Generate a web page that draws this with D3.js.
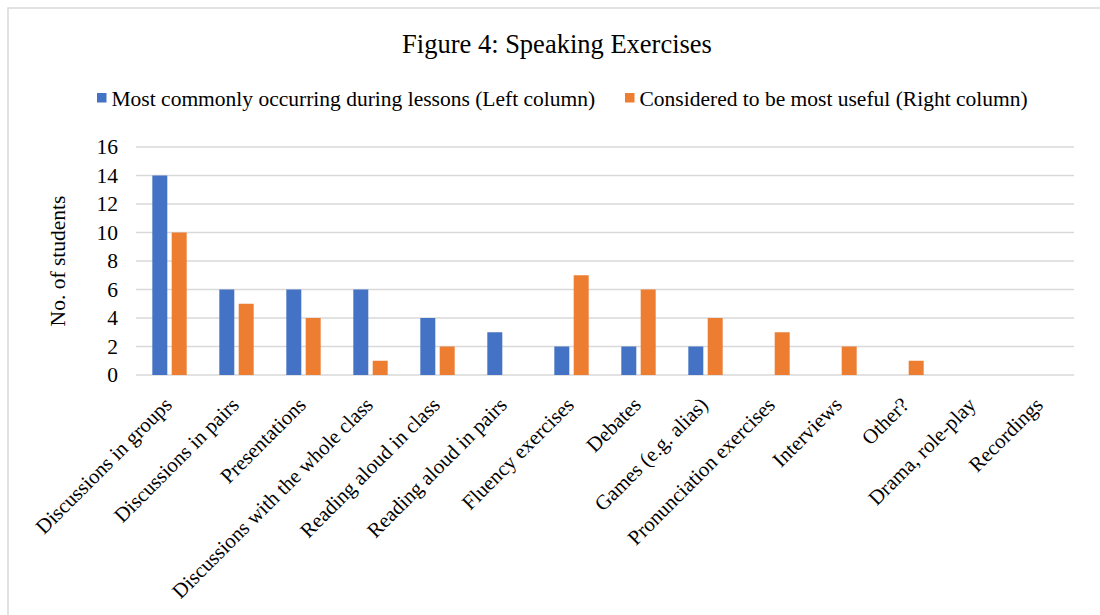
<!DOCTYPE html>
<html>
<head>
<meta charset="utf-8">
<script src="https://cdn.jsdelivr.net/npm/d3@7"></script>
<style>
  html, body { margin: 0; padding: 0; background: #fff; }
  svg { display: block; font-family: "Liberation Serif", "Times New Roman", serif; }
</style>
</head>
<body>
<svg id="chart" width="1100" height="615"></svg>
<script>
const categories = [
  "Discussions in groups", "Discussions in pairs", "Presentations",
  "Discussions with the whole class", "Reading aloud in class", "Reading aloud in pairs",
  "Fluency exercises", "Debates", "Games (e.g. alias)", "Pronunciation exercises",
  "Interviews", "Other?", "Drama, role-play", "Recordings"
];
const seriesNames = [
  "Most commonly occurring during lessons (Left column)",
  "Considered to be most useful (Right column)"
];
const mostCommon = [14, 6, 6, 6, 4, 3, 2, 2, 2, 0, 0, 0, 0, 0];
const mostUseful = [10, 5, 4, 1, 2, 0, 7, 6, 4, 3, 2, 1, 0, 0];
const yTicks = [0, 2, 4, 6, 8, 10, 12, 14, 16];
const colors = ["#4472C4", "#ED7D31"];

(function () {
const svg = d3.select("#chart");
const FS = 21.5;

// chart frame
svg.append("rect")
  .attr("x", 8).attr("y", 8).attr("width", 1200).attr("height", 700)
  .attr("fill", "none").attr("stroke", "#d9d9d9").attr("stroke-width", 1.5);

const pLeft = 136, pRight = 1074, pTop = 147, pBottom = 375;

const x0 = d3.scaleBand().domain(categories).range([pLeft, pRight])
  .paddingInner(0.487).paddingOuter(0.2435);
const x1 = d3.scaleBand().domain([0, 1]).range([0, x0.bandwidth()]).paddingInner(0.227);
const y = d3.scaleLinear().domain([0, 16]).range([pBottom, pTop]);

// gridlines
svg.append("g").selectAll("line").data(yTicks).join("line")
  .attr("x1", pLeft).attr("x2", pRight)
  .attr("y1", d => y(d)).attr("y2", d => y(d))
  .attr("stroke", "#d9d9d9").attr("stroke-width", 1.5);

// y axis labels
const yAxis = d3.axisLeft(y).tickValues(yTicks).tickSize(0).tickPadding(0);
const gy = svg.append("g").attr("transform", `translate(118,0)`).call(yAxis);
gy.select(".domain").remove();
gy.selectAll("text").attr("font-size", FS).attr("font-family", "Liberation Serif, serif").attr("fill", "#000");

// bars
const data = categories.map((c, i) => ({ c, vals: [mostCommon[i], mostUseful[i]] }));
const groups = svg.append("g").selectAll("g").data(data).join("g")
  .attr("transform", d => `translate(${x0(d.c)},0)`);
groups.selectAll("rect").data(d => d.vals.map((v, k) => ({ v, k }))).join("rect")
  .attr("x", d => x1(d.k)).attr("width", x1.bandwidth())
  .attr("y", d => y(d.v)).attr("height", d => y(0) - y(d.v))
  .attr("fill", d => colors[d.k]);

// x axis labels
const xg = svg.append("g");
xg.selectAll("text").data(categories).join("text")
  .attr("transform", d => `translate(${x0(d) + x0.bandwidth() / 2 - 1.5},401) rotate(-45)`)
  .attr("text-anchor", "end")
  .attr("dy", "0.35em")
  .attr("font-size", 20.8)
  .attr("fill", "#000")
  .text(d => d);

// y axis title
svg.append("text")
  .attr("transform", `translate(65,${(pTop + pBottom) / 2}) rotate(-90)`)
  .attr("text-anchor", "middle")
  .attr("font-size", FS)
  .text("No. of students");

// title
svg.append("text")
  .attr("x", 557).attr("y", 53)
  .attr("text-anchor", "middle")
  .attr("font-size", 26.5)
  .text("Figure 4: Speaking Exercises");

// legend
const legendItems = [{ x: 97, name: seriesNames[0], color: colors[0] },
                     { x: 625, name: seriesNames[1], color: colors[1] }];
const lg = svg.append("g").selectAll("g").data(legendItems).join("g")
  .attr("transform", d => `translate(${d.x},0)`);
lg.append("rect").attr("x", 0).attr("y", 93).attr("width", 9.5).attr("height", 9.5)
  .attr("fill", d => d.color);
lg.append("text").attr("x", 14.5).attr("y", 105.5).attr("font-size", FS)
  .text(d => d.name);
})();
</script>
</body>
</html>
